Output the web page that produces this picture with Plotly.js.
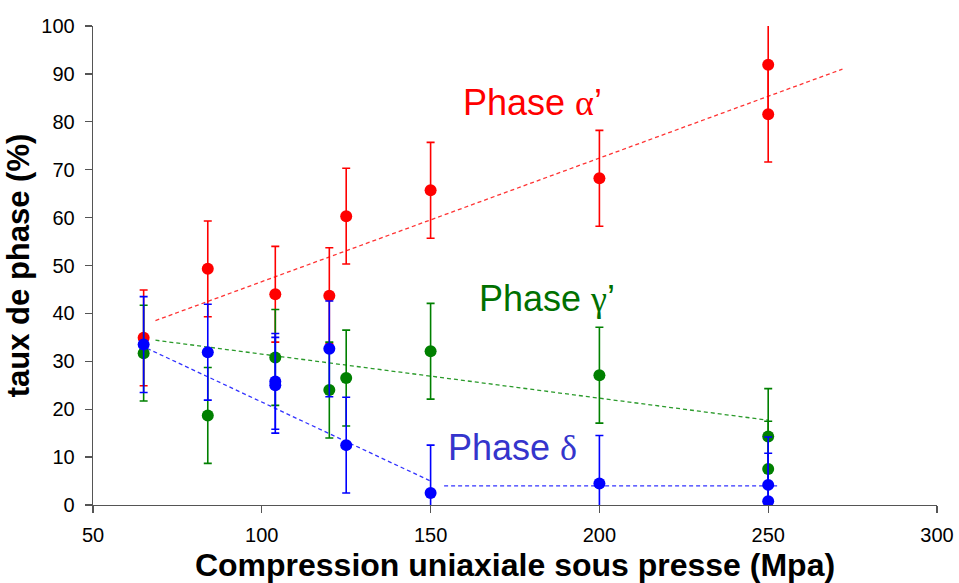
<!DOCTYPE html>
<html>
<head>
<meta charset="utf-8">
<script src="https://cdn.plot.ly/plotly-3.0.1.min.js"></script>
<style>html,body{margin:0;padding:0;background:#fff;}#chart{width:959px;height:583px;}</style>
</head>
<body>
<div id="chart"></div>
<script>
// Phase alpha' (red)
const alphaX = [65, 84, 104, 120, 125, 150, 200, 250, 250];
const alphaY = [34.9, 49.3, 44.0, 43.7, 60.3, 65.7, 68.2, 91.9, 81.6];
const alphaErr = [10, 10, 10, 10, 10, 10, 10, 10, 10];
// Phase gamma' (green)
const gammaX = [65, 84, 104, 120, 125, 150, 200, 250, 250];
const gammaY = [31.7, 18.7, 30.8, 24.0, 26.5, 32.1, 27.1, 14.3, 7.5];
const gammaErr = [10, 10, 10, 10, 10, 10, 10, 10, 10];
// Phase delta (blue)
const deltaX = [65, 84, 104, 104, 120, 125, 150, 200, 250, 250];
const deltaY = [33.5, 31.9, 25.8, 25.0, 32.6, 12.5, 2.5, 4.5, 4.2, 0.8];
const deltaErr = [10, 10, 10, 10, 10, 10, 10, 10, 10, 10];
// Trend lines
const alphaTrendX = [68.5, 272];
const alphaTrendY = [38.5, 91.0];
const gammaTrendX = [68.5, 250];
const gammaTrendY = [34.4, 17.7];
const deltaTrendX = [66, 150];
const deltaTrendY = [32.7, 5.0];
const deltaFlatX = [154, 253];
const deltaFlatY = [4.0, 4.0];
// Axis ticks
const xTicks = [50, 100, 150, 200, 250, 300];
const yTicks = [0, 10, 20, 30, 40, 50, 60, 70, 80, 90, 100];

const RED = '#ff0000', GREEN = '#008000', BLUE = '#0000ff';

function pts(x, y, err, color) {
  return {
    x: x, y: y, type: 'scatter', mode: 'markers', showlegend: false,
    marker: {color: color, size: 12},
    error_y: {type: 'data', array: err, visible: true, color: color, thickness: 1.6, width: 4}
  };
}
function trend(x, y, color) {
  return {
    x: x, y: y, type: 'scatter', mode: 'lines', showlegend: false,
    line: {color: color, width: 1.3, dash: '4px,3px'}
  };
}

const data = [
  trend(alphaTrendX, alphaTrendY, '#ff3333'),
  trend(gammaTrendX, gammaTrendY, '#2a9a2a'),
  trend(deltaTrendX, deltaTrendY, '#3333ff'),
  trend(deltaFlatX, deltaFlatY, '#3333ff'),
  pts(alphaX, alphaY, alphaErr, RED),
  pts(gammaX, gammaY, gammaErr, GREEN),
  pts(deltaX, deltaY, deltaErr, BLUE)
];

const greek = (c) => '<span style="font-family:Liberation Serif">' + c + '</span>';

const layout = {
  width: 959, height: 583,
  margin: {l: 93, r: 22, t: 26, b: 78},
  paper_bgcolor: '#fff', plot_bgcolor: '#fff',
  font: {family: 'Liberation Sans, Arial, sans-serif', color: '#000'},
  xaxis: {
    range: [50, 300], tickvals: xTicks, ticktext: xTicks.map(String),
    ticks: 'outside', ticklen: 7, tickcolor: '#555', tickwidth: 1.3,
    showline: true, linecolor: '#555', linewidth: 1.3,
    showgrid: false, zeroline: false,
    tickfont: {size: 20, color: '#000'}, ticklabelstandoff: 5,
    title: {text: '<b>Compression uniaxiale sous presse (Mpa)</b>', font: {size: 32, color: '#000'}, standoff: 10},
    automargin: false
  },
  yaxis: {
    range: [0, 100], tickvals: yTicks, ticktext: yTicks.map(String),
    ticks: 'outside', ticklen: 7, tickcolor: '#555', tickwidth: 1.3,
    showline: true, linecolor: '#555', linewidth: 1.3,
    showgrid: false, zeroline: false,
    tickfont: {size: 20, color: '#000'}, ticklabelstandoff: 6,
    title: {text: '<b>taux de phase (%)</b>', font: {size: 31, color: '#000'}, standoff: 2},
    automargin: false
  },
  annotations: [
    {x: 180.3, y: 84.1, xref: 'x', yref: 'y', showarrow: false,
     text: 'Phase ' + greek('α') + '’', font: {size: 36, color: '#ff0000'}},
    {x: 184.4, y: 43.2, xref: 'x', yref: 'y', showarrow: false,
     text: 'Phase ' + greek('γ') + '’', font: {size: 36, color: '#007000'}},
    {x: 174.3, y: 12.1, xref: 'x', yref: 'y', showarrow: false,
     text: 'Phase ' + greek('δ'), font: {size: 36, color: '#3535cc'}}
  ]
};

Plotly.newPlot('chart', data, layout, {displayModeBar: false, staticPlot: true});
</script>
</body>
</html>
